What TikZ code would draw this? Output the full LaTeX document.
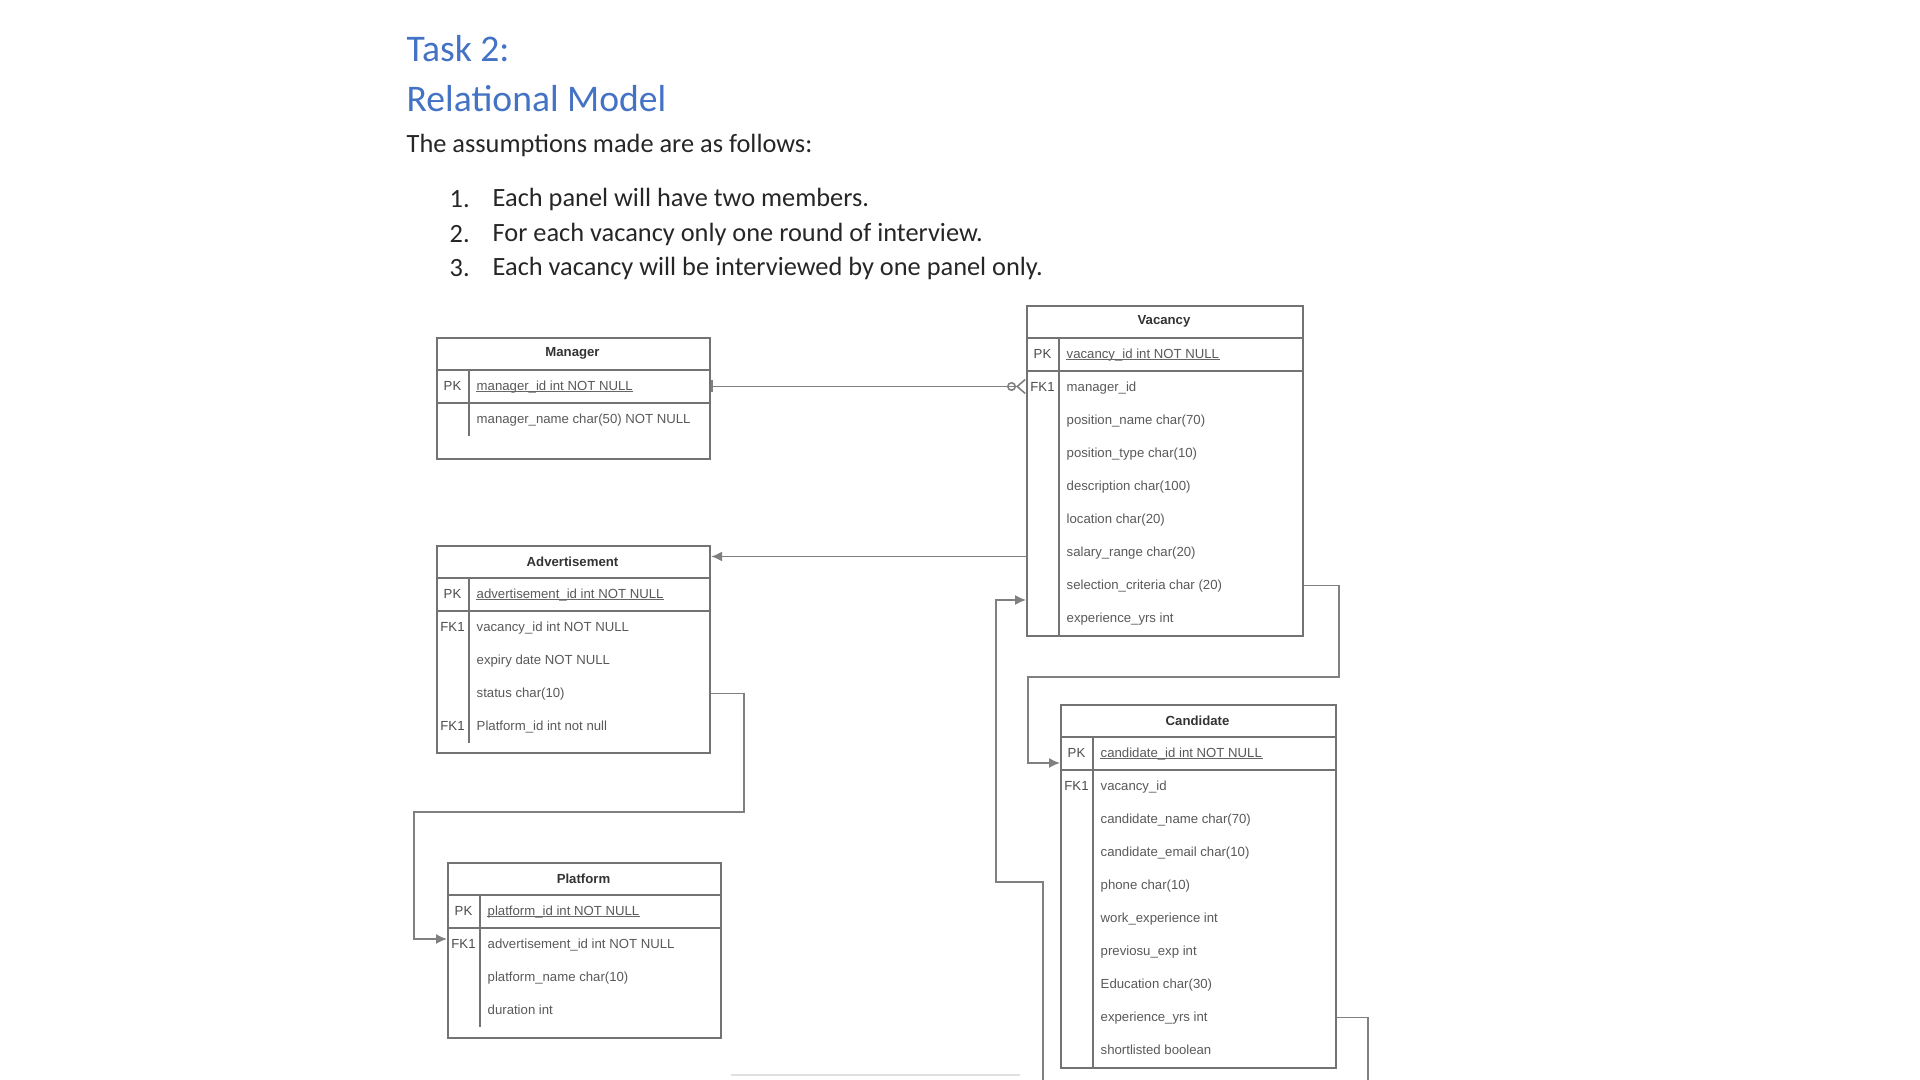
\documentclass[tikz,border=0pt]{standalone}
\usepackage{fontspec}
\setmainfont{Carlito}
\setsansfont{Liberation Sans}
\usepackage{tikz}
\usepackage{xcolor}
\usetikzlibrary{arrows.meta,positioning,calc}
\definecolor{headblue}{RGB}{68,114,196}
\definecolor{linegray}{RGB}{128,128,128}
\newcommand{\tabfont}{\sffamily\fontsize{3.75}{4.5}\selectfont}

\begin{document}
\begin{tikzpicture}[
  tbl/.style={draw=black!55,line width=0.6pt,anchor=north west,inner sep=0pt},
  rowline/.style={draw=black!55,line width=0.6pt},
  uline/.style={draw=black!60,line width=0.3pt},
  ttl/.style={font=\tabfont\bfseries,text=black!80,inner sep=0pt},
  keylbl/.style={font=\tabfont,text=black!70,inner sep=0pt,
                 text height=2.8pt,text depth=0.8pt},
  fld/.style={font=\tabfont,text=black!65,anchor=west,inner sep=0pt,
              text height=2.8pt,text depth=0.8pt},
  rel/.style={draw=linegray,line width=0.45pt},
  fk/.style={-{Latex[length=1.1mm,width=1mm]}},
  txt/.style={anchor=west,inner sep=0pt,text=black!85,font=\fontsize{7.5}{9}\selectfont},
  head/.style={txt,text=headblue,font=\fontsize{10.7}{12}\selectfont}]
\useasboundingbox (0,0) rectangle (19.2,10.8);

% ------------- text -------------
\node[head] (task) at (4.06,10.31) {Task 2:};
\node[head] (model) at (4.06,9.81) {Relational Model};
\node[txt] (assume) at (4.06,9.345) {The assumptions made are as follows:};
\foreach \t [count=\i] in {Each panel will have two members.,
    For each vacancy only one round of interview.,
    Each vacancy will be interviewed by one panel only.}{
  \node[txt] (num-\i) at (4.49,{8.805-0.345*(\i-1)}) {\i.};
  \node[txt] (item-\i) at (4.92,{8.805-0.345*(\i-1)}) {\t};
}

% ------------- Manager -------------
\begin{scope}[shift={(4.36,7.43)}]
\node[tbl,minimum width=2.73cm,minimum height=1.21cm] (man) at (0,0) {};
\draw[rowline] (0,-0.33) -- (2.73,-0.33) (0,-0.66) -- (2.73,-0.66)
  (0.33,-0.33) -- (0.33,-0.99);
\node[ttl] (man-t) at (1.365,-0.165) {Manager};
\node[keylbl] (man-k) at (0.165,-0.495) {PK};
\node[fld] (man-pk) at (0.40,-0.495) {manager\_id int NOT NULL};
\node[fld] (man-1) at (0.40,-0.825) {manager\_name char(50) NOT NULL};
\end{scope}

% ------------- Vacancy -------------
\begin{scope}[shift={(10.26,7.75)}]
\node[tbl,minimum width=2.76cm,minimum height=3.30cm] (vac) at (0,0) {};
\draw[rowline] (0,-0.33) -- (2.76,-0.33) (0,-0.66) -- (2.76,-0.66)
  (0.33,-0.33) -- (0.33,-3.30);
\node[ttl] (vac-t) at (1.38,-0.165) {Vacancy};
\node[keylbl] (vac-k) at (0.165,-0.495) {PK};
\node[fld] (vac-pk) at (0.40,-0.495) {vacancy\_id int NOT NULL};
\node[keylbl] (vac-fk) at (0.165,-0.825) {FK1};
\foreach \f [count=\i] in {manager\_id, position\_name char(70),
    position\_type char(10), description char(100), location char(20),
    salary\_range char(20), selection\_criteria char (20), experience\_yrs int}
  \node[fld] (vac-\i) at (0.40,{-0.495-0.33*\i}) {\f};
\end{scope}

% ------------- Advertisement -------------
\begin{scope}[shift={(4.36,5.35)}]
\node[tbl,minimum width=2.73cm,minimum height=2.07cm] (adv) at (0,0) {};
\draw[rowline] (0,-0.33) -- (2.73,-0.33) (0,-0.66) -- (2.73,-0.66)
  (0.33,-0.33) -- (0.33,-1.98);
\node[ttl] (adv-t) at (1.365,-0.165) {Advertisement};
\node[keylbl] (adv-k) at (0.165,-0.495) {PK};
\node[fld] (adv-pk) at (0.40,-0.495) {advertisement\_id int NOT NULL};
\node[keylbl] (adv-fk1) at (0.165,-0.825) {FK1};
\node[keylbl] (adv-fk2) at (0.165,-1.815) {FK1};
\foreach \f [count=\i] in {vacancy\_id int NOT NULL, expiry date NOT NULL,
    status char(10), Platform\_id int not null}
  \node[fld] (adv-\i) at (0.40,{-0.495-0.33*\i}) {\f};
\end{scope}

% ------------- Platform -------------
\begin{scope}[shift={(4.47,2.18)}]
\node[tbl,minimum width=2.73cm,minimum height=1.75cm] (plt) at (0,0) {};
\draw[rowline] (0,-0.33) -- (2.73,-0.33) (0,-0.66) -- (2.73,-0.66)
  (0.33,-0.33) -- (0.33,-1.65);
\node[ttl] (plt-t) at (1.365,-0.165) {Platform};
\node[keylbl] (plt-k) at (0.165,-0.495) {PK};
\node[fld] (plt-pk) at (0.40,-0.495) {platform\_id int NOT NULL};
\node[keylbl] (plt-fk) at (0.165,-0.825) {FK1};
\foreach \f [count=\i] in {advertisement\_id int NOT NULL,
    platform\_name char(10), duration int}
  \node[fld] (plt-\i) at (0.40,{-0.495-0.33*\i}) {\f};
\end{scope}

% ------------- Candidate -------------
\begin{scope}[shift={(10.60,3.76)}]
\node[tbl,minimum width=2.75cm,minimum height=3.63cm] (cand) at (0,0) {};
\draw[rowline] (0,-0.33) -- (2.75,-0.33) (0,-0.66) -- (2.75,-0.66)
  (0.33,-0.33) -- (0.33,-3.63);
\node[ttl] (cand-t) at (1.375,-0.165) {Candidate};
\node[keylbl] (cand-k) at (0.165,-0.495) {PK};
\node[fld] (cand-pk) at (0.40,-0.495) {candidate\_id int NOT NULL};
\node[keylbl] (cand-fk) at (0.165,-0.825) {FK1};
\foreach \f [count=\i] in {vacancy\_id, candidate\_name char(70),
    candidate\_email char(10), phone char(10), work\_experience int,
    previosu\_exp int, Education char(30), experience\_yrs int,
    shortlisted boolean}
  \node[fld] (cand-\i) at (0.40,{-0.495-0.33*\i}) {\f};
\end{scope}

% primary keys underlined
\foreach \k in {man-pk,vac-pk,adv-pk,plt-pk,cand-pk}
  \draw[uline] ([yshift=-0.45pt]\k.base west) -- ([yshift=-0.45pt]\k.base east);

% ------------- relations -------------
\coordinate (adv-in) at ($(adv.east |- adv-t)+(0,0.05)$);
\coordinate (plt-in) at (4.47,1.41);
\coordinate (cand-in) at (10.60,3.17);
\coordinate (vac-in) at (10.26,4.80);
\coordinate (cut1) at (10.43,0);
\coordinate (cut2) at (13.68,0);
\draw[rel,{Bar[width=1.2mm]}-{Circle[open,length=0.9mm]Straight Barb[reversed,length=0.8mm,width=1.4mm]}]
  (man.east |- man-pk) -- (vac.west |- man-pk);
\draw[rel,fk] (vac.west |- adv-in) -- (adv-in);
\draw[rel,fk] (adv.east |- adv-3) -- ++(0.33,0) |- (4.14,2.68) |- (plt-in);
\draw[rel,fk] (vac.east |- vac-7) -- ++(0.35,0) |- (10.28,4.03) |- (cand-in);
\draw[rel,fk] (cut1) |- (9.96,1.98) |- (vac-in);
\draw[rel] (cand.east |- cand-8) -| (cut2);
\draw[black!12,line width=0.6pt] (7.31,0.05) -- (10.20,0.05);

\end{tikzpicture}
\end{document}
